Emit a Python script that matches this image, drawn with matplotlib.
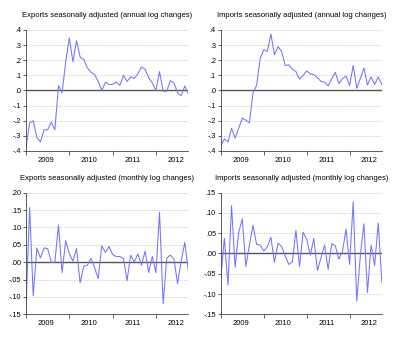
import numpy as np
import matplotlib
matplotlib.use("Agg")
import matplotlib.pyplot as plt

plt.rcParams["font.family"] = ["Liberation Sans", "DejaVu Sans"]

# monthly observations, Jan 2009 .. Oct 2012
years = ["2009", "2010", "2011", "2012"]

exports_annual = [-0.37, -0.215, -0.20, -0.31, -0.34, -0.26, -0.26, -0.21, -0.26, 0.033,
                  -0.015, 0.19, 0.347, 0.19, 0.33, 0.22, 0.205, 0.15, 0.12, 0.105,
                  0.06, 0.0, 0.055, 0.04, 0.04, 0.055, 0.033, 0.10, 0.06, 0.09,
                  0.08, 0.11, 0.155, 0.14, 0.085, 0.05, 0.0, 0.125, -0.005, -0.005,
                  0.065, 0.05, -0.015, -0.035, 0.03, -0.025]

imports_annual = [-0.366, -0.32, -0.34, -0.25, -0.315, -0.25, -0.183, -0.196, -0.214, -0.015,
                  0.033, 0.21, 0.27, 0.258, 0.373, 0.236, 0.29, 0.258, 0.165, 0.17,
                  0.14, 0.125, 0.075, 0.10, 0.13, 0.11, 0.105, 0.085, 0.06, 0.055,
                  0.03, 0.077, 0.12, 0.046, 0.077, 0.095, 0.033, 0.165, 0.015, 0.08,
                  0.148, 0.037, 0.09, 0.04, 0.09, 0.04]

exports_monthly = [-0.133, 0.157, -0.097, 0.041, 0.012, 0.041, 0.039, 0.0, 0.0, 0.107,
                   -0.03, 0.062, 0.024, 0.003, 0.039, -0.059, -0.012, -0.009, 0.011, -0.016,
                   -0.047, 0.047, 0.028, 0.045, 0.022, 0.016, 0.016, 0.011, -0.053, 0.02,
                   0.0, 0.024, -0.009, 0.032, -0.03, 0.016, -0.03, 0.143, -0.12, 0.012,
                   0.02, 0.009, -0.062, 0.003, 0.057, -0.026]

imports_monthly = [-0.06, 0.037, -0.078, 0.118, -0.034, 0.052, 0.085, -0.032, 0.021, 0.07,
                   0.022, 0.021, 0.006, 0.016, 0.04, -0.022, 0.025, 0.017, -0.006, -0.027,
                   -0.021, 0.057, -0.032, 0.052, 0.035, -0.004, 0.037, -0.042, -0.011, 0.021,
                   -0.039, 0.024, 0.019, -0.014, 0.004, 0.06, -0.027, 0.127, -0.118, -0.006,
                   0.073, -0.096, 0.021, -0.03, 0.075, -0.07]

months = np.arange(len(exports_annual))


def fmt(v, nd):
    s = f"{v:.{nd}f}"
    return s.replace("0.", ".", 1)


def draw_panel(ax, values, title, yticks, nd):
    ax.plot(months, values, color="#7373ff", lw=0.75)
    ax.axhline(0, color="#555555", lw=1.0, zorder=1)
    for t in yticks:
        if t != 0:
            ax.axhline(t, color="#c8c8c8", lw=0.6, ls=(0, (1.5, 1.5)), zorder=0)
    ax.set_xlim(0, len(values) - 1)
    ax.set_ylim(yticks[0], yticks[-1])
    ax.set_yticks(yticks)
    ax.set_yticklabels([fmt(t, nd) for t in yticks], fontsize=5.2)
    ax.set_xticks([0, 12, 24, 36])
    ax.set_xticklabels([])
    ax.set_xticks([5.5, 17.5, 29.5, 41.5], minor=True)
    ax.set_xticklabels(years, minor=True, fontsize=5.5)
    ax.tick_params(axis="x", which="major", length=3, width=0.6, color="#444444", direction="out")
    ax.tick_params(axis="x", which="minor", length=0, pad=4)
    ax.tick_params(axis="y", length=2, width=0.6, color="#444444", pad=1.5)
    for s in ["top", "right"]:
        ax.spines[s].set_visible(False)
    for s in ["left", "bottom"]:
        ax.spines[s].set_color("#444444")
        ax.spines[s].set_linewidth(0.6)
    ax.set_title(title, fontsize=5.5, pad=9)


fig = plt.figure(figsize=(4.0, 3.37), dpi=100)
ax1 = fig.add_axes([0.065, 0.552, 0.406, 0.359])
ax2 = fig.add_axes([0.552, 0.552, 0.4025, 0.359])
ax3 = fig.add_axes([0.065, 0.0674, 0.406, 0.361])
ax4 = fig.add_axes([0.552, 0.0674, 0.4025, 0.361])

draw_panel(ax1, exports_annual, "Exports seasonally adjusted (annual log changes)",
           [-0.4, -0.3, -0.2, -0.1, 0.0, 0.1, 0.2, 0.3, 0.4], 1)
draw_panel(ax2, imports_annual, "Imports seasonally adjusted (annual log changes)",
           [-0.4, -0.3, -0.2, -0.1, 0.0, 0.1, 0.2, 0.3, 0.4], 1)
draw_panel(ax3, exports_monthly, "Exports seasonally adjusted (monthly log changes)",
           [-0.15, -0.10, -0.05, 0.0, 0.05, 0.10, 0.15, 0.20], 2)
draw_panel(ax4, imports_monthly, "Imports seasonally adjusted (monthly log changes)",
           [-0.15, -0.10, -0.05, 0.0, 0.05, 0.10, 0.15], 2)

fig.savefig("out.png", dpi=100)
